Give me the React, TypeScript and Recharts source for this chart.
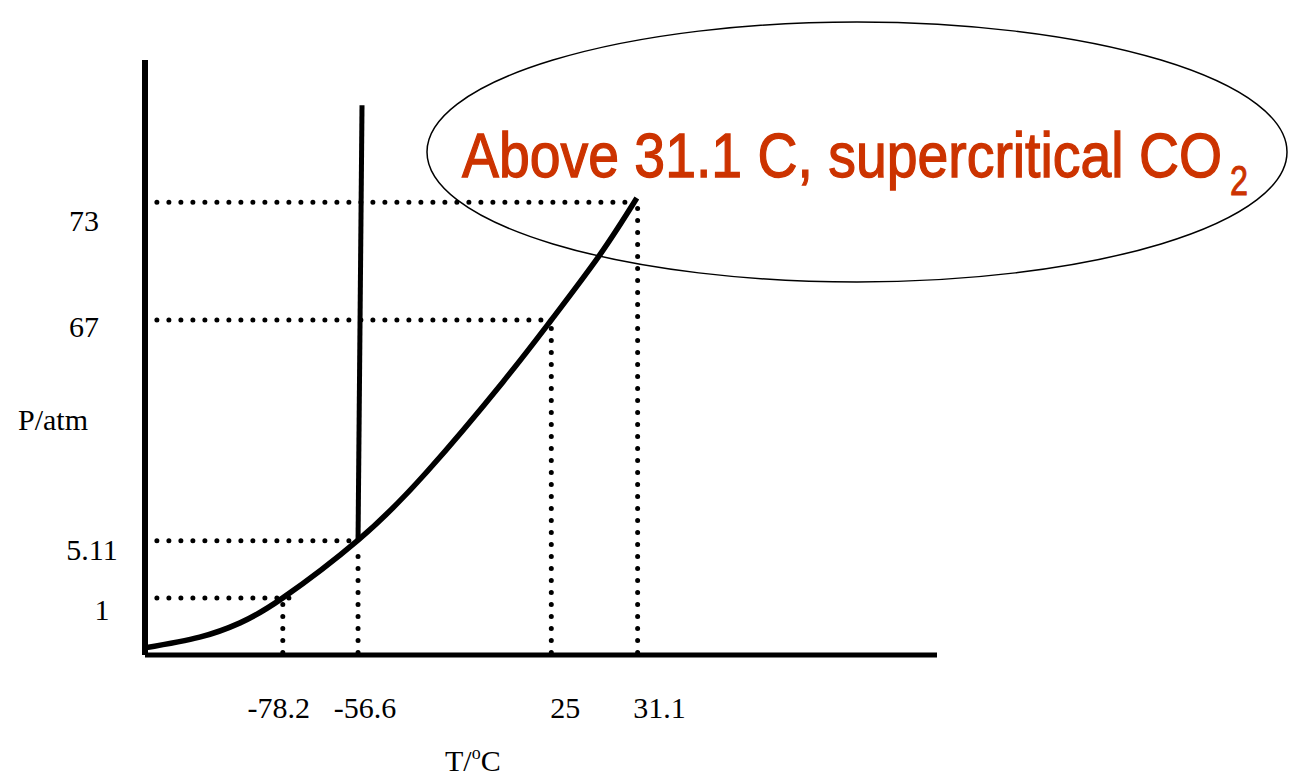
import React from 'react';
import {
  ComposedChart,
  Line,
  XAxis,
  YAxis,
  ReferenceLine,
  Customized,
} from 'recharts';

// Schematic (not to scale) CO2 phase diagram: axes run 0-100 in drawing units,
// tick labels carry the real temperature / pressure values.
const tempTicks = [17.4, 26.9, 51.3, 62.2];
const tempLabels = ['-78.2', '-56.6', '25', '31.1'];
const pressTicks = [9.6, 19.2, 56.3, 76.1];
const pressLabels = ['1', '5.11', '67', '73'];

// liquid/gas + solid/gas boundary curve
const curveX = [0, 6.9, 12.0, 17.4, 26.9, 35.6, 45.2, 51.3, 57.4, 62.1];
const curveY = [1.2, 3.0, 5.4, 9.6, 19.3, 30.8, 45.9, 56.3, 67.2, 76.8];

// solid/liquid boundary
const fusionX = [26.9, 27.4];
const fusionY = [19.3, 92.4];

// how far each dotted guide runs along x (to the curve)
const guideEnds = [18.4, 26.9, 50.6, 61.3];

const curveData = curveX.map((x, i) => ({ x, y: curveY[i] }));
const fusionData = fusionX.map((x, i) => ({ x, y: fusionY[i] }));

const SERIF = "'Liberation Serif', 'Times New Roman', serif";
const SANS = "'Liberation Sans Narrow', 'Arial Narrow', 'Liberation Sans', sans-serif";
const xLabelShift = [-4, 7, 14, 22];
const yLabelCenter = [102, 92, 84, 84];
const yLabelDrop = [22, 19, 17, 29];

const TempTick = (props: any) => {
  const i = tempTicks.indexOf(props.payload.value);
  if (i < 0) return null;
  return (
    <text x={props.x + xLabelShift[i]} y={718} textAnchor="middle" fontFamily={SERIF} fontSize={30} fill="#000">
      {tempLabels[i]}
    </text>
  );
};

const PressTick = (props: any) => {
  const i = pressTicks.indexOf(props.payload.value);
  if (i < 0) return null;
  return (
    <text x={yLabelCenter[i]} y={props.y + yLabelDrop[i]} textAnchor="middle" fontFamily={SERIF} fontSize={30} fill="#000">
      {pressLabels[i]}
    </text>
  );
};

const Annotation = () => (
  <g>
    <text x={18} y={430} fontFamily={SERIF} fontSize={30} fill="#000">P/atm</text>
    <text x={445} y={771} fontFamily={SERIF} fontSize={30} fill="#000">
      T/<tspan fontSize={18} dy={-12}>o</tspan><tspan dy={12}>C</tspan>
    </text>
    <ellipse cx={857} cy={152} rx={430} ry={130} fill="none" stroke="#000" strokeWidth={1.5} />
    <text
      x={462}
      y={177}
      fontFamily={SANS}
      fontSize={63}
      fill="#cc3300"
      stroke="#cc3300"
      strokeWidth={1.3}
      textLength={760}
      lengthAdjust="spacingAndGlyphs"
    >
      Above 31.1 C, supercritical CO
    </text>
    <text
      x={1230}
      y={195}
      fontFamily={SANS}
      fontSize={42}
      fill="#cc3300"
      stroke="#cc3300"
      strokeWidth={1}
      textLength={18}
      lengthAdjust="spacingAndGlyphs"
    >
      2
    </text>
  </g>
);

const dotted = {
  stroke: '#000',
  strokeWidth: 5,
  strokeDasharray: '0 12',
  strokeLinecap: 'round' as const,
  ifOverflow: 'visible' as const,
};

export default function App() {
  return (
    <div style={{ position: 'absolute', left: 0, top: 0, background: '#fff' }}>
      <ComposedChart
        width={1289}
        height={779}
        margin={{ top: 60, right: 352, bottom: 24, left: 0 }}
      >
        <XAxis
          type="number"
          dataKey="x"
          domain={[0, 100]}
          ticks={tempTicks}
          tick={<TempTick />}
          tickLine={false}
          axisLine={{ stroke: '#000', strokeWidth: 5 }}
          height={100}
          interval={0}
          allowDataOverflow
        />
        <YAxis
          type="number"
          dataKey="y"
          domain={[0, 100]}
          ticks={pressTicks}
          tick={<PressTick />}
          tickLine={false}
          axisLine={{ stroke: '#000', strokeWidth: 6 }}
          width={145}
          interval={0}
          allowDataOverflow
        />
        {pressTicks.map((p, i) => (
          <ReferenceLine
            key={`h${i}`}
            segment={[{ x: 1.5, y: p }, { x: guideEnds[i], y: p }]}
            {...dotted}
          />
        ))}
        {tempTicks.map((t, i) => (
          <ReferenceLine
            key={`v${i}`}
            segment={[{ x: t, y: 0.4 }, { x: t, y: pressTicks[i] - 0.8 }]}
            {...dotted}
          />
        ))}
        <Line
          data={curveData}
          dataKey="y"
          type="natural"
          stroke="#000"
          strokeWidth={5.5}
          dot={false}
          isAnimationActive={false}
        />
        <Line
          data={fusionData}
          dataKey="y"
          type="linear"
          stroke="#000"
          strokeWidth={5}
          dot={false}
          isAnimationActive={false}
        />
        <Customized component={Annotation} />
      </ComposedChart>
    </div>
  );
}
